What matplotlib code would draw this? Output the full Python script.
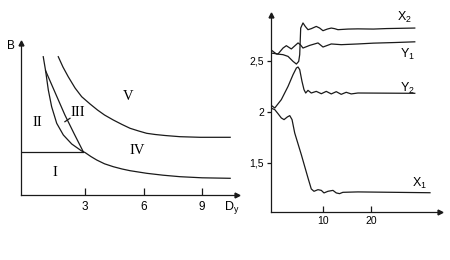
"""
Two panels: the region diagram B(D_y) with areas I-V on the left, and the
time traces of X1, X2, Y1, Y2 on the right.
"""

import matplotlib

matplotlib.use("Agg")
import matplotlib.pyplot as plt

plt.rcParams["font.family"] = ["Liberation Sans", "DejaVu Sans"]
plt.rcParams["mathtext.fontset"] = "custom"
plt.rcParams["mathtext.rm"] = "Liberation Sans"
plt.rcParams["mathtext.it"] = "Liberation Sans"

_LINE_COLOR = "#1a1a1a"
_LW = 0.9

# ---- left panel: boundaries in the (D_y, B) plane ----
lower_d = [0.86, 0.98, 1.12, 1.29, 1.55, 1.89, 2.32, 2.83, 3.0, 3.3, 3.6, 4.0, 4.45, 4.9, 5.31,
           6.16, 7.0, 7.87, 9.0, 10.44]
lower_b = [13.83, 12.43, 10.5, 8.83, 7.17, 6.0, 5.1, 4.4, 4.25, 3.85, 3.5, 3.12, 2.83, 2.6, 2.43,
           2.17, 1.98, 1.83, 1.72, 1.67]

upper_d = [1.63, 1.87, 2.14, 2.49, 2.83, 3.26, 3.64, 4.0, 4.45, 4.9, 5.31, 5.75, 6.16, 6.6, 7.1,
           7.87, 8.9, 10.44]
upper_b = [13.83, 12.8, 11.83, 10.7, 9.83, 9.1, 8.5, 8.0, 7.5, 7.05, 6.67, 6.4, 6.17, 6.05, 5.95,
           5.83, 5.77, 5.77]

split_d = [0.98, 1.5, 1.97, 2.45, 2.91]
split_b = [12.43, 10.1, 8.0, 6.1, 4.33]

level_d = [-0.28, 2.9]
level_b = [4.3, 4.3]

region_names = ["I", "II", "III", "IV", "V"]
region_d = [1.46, 0.54, 2.64, 5.67, 5.2]
region_b = [2.2, 7.2, 8.3, 4.4, 9.8]

left_ticks = [3, 6, 9]

# ---- right panel: time traces ----
x2_t = [-1.05, 0.13, 1.53, 2.58, 3.63, 4.33, 4.82, 5.03, 5.24, 5.72, 6.2, 6.77, 7.46, 8.51,
        9.22, 9.92, 10.82, 11.66, 12.37, 13.06, 15.16, 17.25, 20.5, 23.3, 29.2]
x2_v = [2.608, 2.566, 2.559, 2.542, 2.493, 2.467, 2.493, 2.559, 2.82, 2.87, 2.836, 2.804, 2.814,
        2.836, 2.82, 2.794, 2.81, 2.82, 2.814, 2.804, 2.81, 2.812, 2.81, 2.815, 2.82]

y1_t = [-1.05, 0.48, 1.53, 2.22, 3.27, 4.68, 5.16, 5.72, 7.13, 8.87, 9.92, 11.66, 13.75, 17.25,
        20.5, 25.0, 29.2]
y1_v = [2.575, 2.566, 2.624, 2.647, 2.615, 2.674, 2.657, 2.624, 2.65, 2.674, 2.634, 2.664, 2.657,
        2.664, 2.672, 2.678, 2.685]

y2_t = [-1.05, -0.21, 1.17, 2.58, 3.63, 4.33, 4.68, 5.03, 5.51, 5.93, 6.29, 6.77, 7.46, 8.51,
        9.57, 10.61, 11.66, 12.71, 13.75, 14.8, 15.85, 17.25, 29.2]
y2_v = [2.065, 2.036, 2.118, 2.248, 2.363, 2.428, 2.438, 2.412, 2.297, 2.216, 2.183, 2.209, 2.183,
        2.199, 2.176, 2.199, 2.174, 2.196, 2.17, 2.19, 2.174, 2.183, 2.18]

x1_t = [-1.05, -0.21, 0.48, 1.17, 1.74, 2.43, 2.94, 3.42, 3.98, 5.37, 6.77, 7.46, 8.03, 8.87,
        9.57, 10.13, 10.96, 12.01, 12.71, 13.4, 14.1, 17.25, 32.4]
x1_v = [2.036, 2.02, 1.98, 1.938, 1.922, 1.948, 1.961, 1.922, 1.791, 1.578, 1.35, 1.242, 1.219,
        1.235, 1.228, 1.203, 1.219, 1.228, 1.203, 1.196, 1.209, 1.213, 1.205]

trace_names = [r"$\mathrm{X}_2$", r"$\mathrm{Y}_1$", r"$\mathrm{Y}_2$", r"$\mathrm{X}_1$"]
name_t = [25.5, 26.2, 26.2, 28.7]
name_v = [2.89, 2.53, 2.196, 1.265]

right_xticks = [10, 20]
right_yticks = [1.5, 2.0, 2.5]
right_yticklabels = ["1,5", "2", "2,5"]


def _arrow_axes(ax) -> None:
    """Only left and bottom spines, each ending in a small filled arrowhead."""
    for side in ("top", "right"):
        ax.spines[side].set_visible(False)
    for side in ("left", "bottom"):
        ax.spines[side].set_linewidth(_LW)
        ax.spines[side].set_color(_LINE_COLOR)
    ax.plot(1, 0, ">", color=_LINE_COLOR, ms=3.5, transform=ax.transAxes, clip_on=False)
    ax.plot(0, 1, "^", color=_LINE_COLOR, ms=3.5, transform=ax.transAxes, clip_on=False)


fig = plt.figure(figsize=(4.5, 2.6), dpi=100)

# left panel
ax1 = fig.add_axes([21 / 450, 65 / 260, 216 / 450, 152 / 260])
ax1.set_xlim(-0.28, 10.79)
ax1.set_ylim(0, 15.2)
_arrow_axes(ax1)

for d, b in ((lower_d, lower_b), (upper_d, upper_b), (split_d, split_b), (level_d, level_b)):
    ax1.plot(d, b, color=_LINE_COLOR, lw=_LW, solid_joinstyle="round")
# little leader mark for region III
ax1.plot([1.97, 2.23], [7.33, 7.67], color=_LINE_COLOR, lw=_LW)

for name, d, b in zip(region_names, region_d, region_b):
    ax1.text(d, b, name, ha="center", va="center", fontsize=10.5, family="Liberation Serif")

ax1.set_xticks(left_ticks)
ax1.set_yticks([])
ax1.tick_params(axis="x", direction="in", length=5, width=_LW, pad=4, labelsize=8.5,
                color=_LINE_COLOR)
ax1.text(-0.8, 14.9, "B", ha="center", va="center", fontsize=8.5)
ax1.text(10.1, -1.3, r"$\mathrm{D}_\mathrm{y}$", ha="left", va="center", fontsize=9)

# right panel
ax2 = fig.add_axes([271 / 450, 48 / 260, 169 / 450, 197 / 260])
ax2.set_xlim(-1.0, 34.5)
ax2.set_ylim(1.016, 2.948)
_arrow_axes(ax2)

for t, v in ((x2_t, x2_v), (y1_t, y1_v), (y2_t, y2_v), (x1_t, x1_v)):
    ax2.plot(t, v, color=_LINE_COLOR, lw=_LW, solid_joinstyle="round")

for name, t, v in zip(trace_names, name_t, name_v):
    ax2.text(t, v, name, ha="left", va="baseline", fontsize=9)

ax2.set_xticks(right_xticks)
ax2.set_yticks(right_yticks, right_yticklabels)
ax2.tick_params(axis="x", direction="in", length=4, width=_LW, pad=3, labelsize=7.5,
                color=_LINE_COLOR)
ax2.tick_params(axis="y", direction="out", length=3, width=_LW, pad=2, labelsize=7.5,
                color=_LINE_COLOR)

fig.savefig("out.png", dpi=100, facecolor="white")
